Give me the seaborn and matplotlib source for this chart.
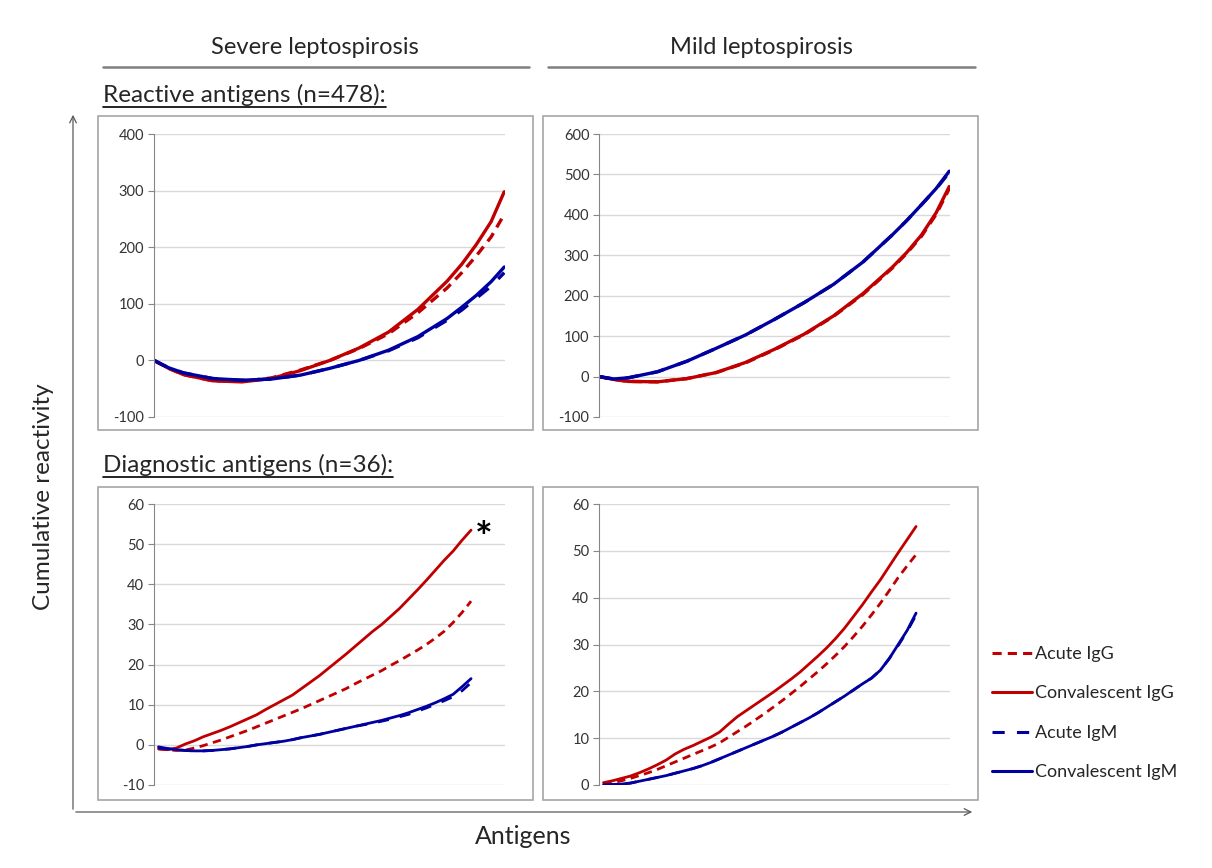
import numpy as np
import pandas as pd
import matplotlib
matplotlib.use("Agg")
import matplotlib.pyplot as plt
import seaborn as sns
from matplotlib.lines import Line2D
from matplotlib.patches import Rectangle, FancyArrowPatch

# Данные: кумулятивная реактивность антигенов
# Reactive antigens (n=478): значения сняты с картинки в выбранных точках
reactive_idx = [0, 20, 40, 80, 120, 160, 200, 240, 280, 320, 360, 400, 420, 440, 460, 478]
severe_acute_igg = [0, -14, -25, -36, -37, -31, -17, 0, 21, 47, 84, 128, 155, 185, 218, 258]
severe_conv_igg = [0, -14, -25, -36, -38, -32, -18, 0, 22, 50, 90, 140, 170, 205, 245, 298]
severe_acute_igm = [0, -13, -22, -32, -35, -33, -26, -14, 0, 17, 40, 71, 89, 110, 131, 155]
severe_conv_igm = [0, -13, -22, -32, -35, -33, -26, -14, 0, 18, 42, 74, 94, 115, 139, 165]
mild_acute_igg = [0, -7, -12, -13, -5, 10, 34, 67, 104, 149, 203, 268, 305, 347, 401, 465]
mild_conv_igg = [0, -7, -12, -13, -5, 10, 35, 68, 105, 150, 205, 270, 307, 350, 405, 470]
mild_acute_igm = [0, -6, -3, 12, 38, 70, 103, 142, 183, 228, 283, 350, 386, 425, 464, 505]
mild_conv_igm = [0, -6, -3, 12, 38, 70, 103, 142, 183, 228, 283, 350, 386, 425, 465, 508]

# Diagnostic antigens (n=36)
diag_idx = list(range(1, 37))
diag_severe_acute_igg = [-1.0, -1.2, -1.4, -1.3, -0.8, -0.2, 0.5, 1.2, 2.0, 2.8, 3.6, 4.5,
                         5.4, 6.3, 7.2, 8.1, 9.0, 10.0, 11.0, 12.0, 13.0, 14.0, 15.2, 16.3,
                         17.4, 18.5, 19.8, 21.0, 22.3, 23.6, 25.0, 26.6, 28.3, 30.5, 33.0, 35.8]
diag_severe_conv_igg = [-1.0, -1.2, -0.8, 0.2, 1.0, 2.0, 2.8, 3.6, 4.5, 5.5, 6.5, 7.5,
                        8.8, 10.0, 11.2, 12.4, 14.0, 15.6, 17.2, 19.0, 20.8, 22.6, 24.5, 26.4,
                        28.3, 30.0, 32.0, 34.0, 36.3, 38.6, 41.0, 43.5, 46.0, 48.3, 51.0, 53.5]
diag_severe_acute_igm = [-0.8, -1.0, -1.2, -1.4, -1.5, -1.5, -1.4, -1.2, -1.0, -0.7, -0.4, 0.0,
                         0.3, 0.6, 0.9, 1.3, 1.8, 2.2, 2.6, 3.1, 3.6, 4.1, 4.6, 5.0,
                         5.4, 5.9, 6.4, 7.0, 7.6, 8.4, 9.2, 10.1, 11.0, 12.0, 13.5, 15.5]
diag_severe_conv_igm = [-0.5, -0.9, -1.2, -1.4, -1.5, -1.5, -1.4, -1.2, -1.0, -0.7, -0.4, 0.0,
                        0.3, 0.6, 0.9, 1.3, 1.8, 2.2, 2.6, 3.1, 3.6, 4.1, 4.6, 5.1,
                        5.6, 6.1, 6.7, 7.3, 8.0, 8.8, 9.6, 10.5, 11.5, 12.6, 14.5, 16.5]
diag_mild_acute_igg = [0.3, 0.5, 0.9, 1.4, 2.0, 2.6, 3.3, 4.1, 4.9, 5.7, 6.5, 7.3,
                       8.1, 9.0, 10.2, 11.4, 12.6, 13.9, 15.2, 16.6, 18.0, 19.5, 21.0, 22.6,
                       24.2, 25.9, 27.7, 29.6, 31.7, 33.9, 36.3, 38.8, 41.5, 44.3, 46.8, 49.2]
diag_mild_conv_igg = [0.5, 0.9, 1.4, 1.9, 2.6, 3.4, 4.3, 5.3, 6.6, 7.6, 8.4, 9.3,
                      10.2, 11.3, 13.0, 14.6, 15.9, 17.2, 18.5, 19.8, 21.2, 22.6, 24.1, 25.8,
                      27.5, 29.3, 31.3, 33.5, 36.0, 38.5, 41.2, 43.8, 46.7, 49.6, 52.4, 55.2]
diag_mild_acute_igm = [0.0, 0.1, 0.2, 0.4, 0.8, 1.2, 1.6, 2.0, 2.5, 3.0, 3.5, 4.1,
                       4.8, 5.6, 6.4, 7.2, 8.0, 8.8, 9.6, 10.4, 11.3, 12.3, 13.3, 14.3,
                       15.4, 16.6, 17.8, 19.0, 20.3, 21.6, 22.8, 24.5, 27.0, 29.8, 32.8, 36.3]
diag_mild_conv_igm = [0.0, 0.1, 0.2, 0.4, 0.8, 1.2, 1.6, 2.0, 2.5, 3.0, 3.5, 4.1,
                      4.8, 5.6, 6.4, 7.2, 8.0, 8.8, 9.6, 10.4, 11.3, 12.3, 13.3, 14.3,
                      15.4, 16.6, 17.8, 19.0, 20.3, 21.6, 22.8, 24.5, 27.0, 30.0, 33.0, 36.7]

series_names = ["Acute IgG", "Convalescent IgG", "Acute IgM", "Convalescent IgM"]

RED = "#C00000"
BLUE = "#0000A0"
styles = {
    "Acute IgG": dict(color=RED, dashes=(3, 2)),
    "Convalescent IgG": dict(color=RED, dashes=None),
    "Acute IgM": dict(color=BLUE, dashes=(4, 4)),
    "Convalescent IgM": dict(color=BLUE, dashes=None),
}

sns.set_style("white")
plt.rcParams["font.family"] = ["Lato", "DejaVu Sans"]
plt.rcParams["axes.unicode_minus"] = False

W, H = 1212, 868
fig = plt.figure(figsize=(W / 100, H / 100), dpi=100)


def fx(px):
    return px / W


def fy(py):
    return 1 - py / H


def panel(rect_px, x, ys, xlim, ylim, step, lw):
    l, t, r, b = rect_px
    ax = fig.add_axes([fx(l), fy(b), fx(r - l), (b - t) / H])
    for name, y in zip(series_names, ys):
        st = styles[name]
        sns.lineplot(x=x, y=y, ax=ax, color=st["color"], lw=lw, legend=False)
        if st["dashes"] is not None:
            ax.lines[-1].set_dashes(st["dashes"])
    ax.set_xlim(*xlim)
    ax.set_ylim(*ylim)
    ax.set_yticks(np.arange(ylim[0], ylim[1] + step / 2, step))
    ax.set_xticks([])
    ax.set_xlabel("")
    ax.set_ylabel("")
    ax.grid(axis="y", color="#d9d9d9", lw=1)
    for s in ["top", "right", "bottom"]:
        ax.spines[s].set_visible(False)
    ax.spines["left"].set_color("#868686")
    ax.tick_params(axis="y", left=True, length=4, color="#868686",
                   labelsize=10.5, labelcolor="#333333", pad=3)
    ax.set_facecolor("none")
    return ax


# Рамки панелей
for (l, t, r, b) in [(98, 116, 533, 430), (543, 116, 978, 430),
                     (98, 487, 533, 800), (543, 487, 978, 800)]:
    fig.add_artist(Rectangle((fx(l), fy(b)), fx(r - l), (b - t) / H,
                             transform=fig.transFigure, fill=False,
                             edgecolor="#a6a6a6", lw=1.2))

panel((154, 134, 505, 417), reactive_idx,
      [severe_acute_igg, severe_conv_igg, severe_acute_igm, severe_conv_igm],
      (0, 479), (-100, 400), 100, 2.4)
panel((599, 134, 950, 417), reactive_idx,
      [mild_acute_igg, mild_conv_igg, mild_acute_igm, mild_conv_igm],
      (0, 479), (-100, 600), 100, 2.4)
ax3 = panel((154, 504, 505, 785), diag_idx,
            [diag_severe_acute_igg, diag_severe_conv_igg, diag_severe_acute_igm, diag_severe_conv_igm],
            (0.5, 39.8), (-10, 60), 10, 2.0)
panel((599, 504, 950, 785), diag_idx,
      [diag_mild_acute_igg, diag_mild_conv_igg, diag_mild_acute_igm, diag_mild_conv_igm],
      (0.5, 39.8), (0, 60), 10, 2.0)

# Звёздочка у конца кривой
ax3.text(diag_idx[-1] + 0.4, diag_severe_conv_igg[-1] - 2.4, "*", fontsize=30,
         fontweight="bold", color="black", ha="left", va="center")

# Заголовки столбцов
fig.text(fx(315), fy(47), "Severe leptospirosis", ha="center", va="center", fontsize=17)
fig.text(fx(761), fy(47), "Mild leptospirosis", ha="center", va="center", fontsize=17)
fig.add_artist(Line2D([fx(103), fx(529)], [fy(67), fy(67)], color="#7f7f7f", lw=1.8))
fig.add_artist(Line2D([fx(548), fx(975)], [fy(67), fy(67)], color="#7f7f7f", lw=1.8))

# Подзаголовки с подчёркиванием
sub1 = fig.text(fx(103), fy(95), "Reactive antigens (n=478):", ha="left", va="center", fontsize=17.5)
sub2 = fig.text(fx(103), fy(465), "Diagnostic antigens (n=36):", ha="left", va="center", fontsize=17.5)
fig.canvas.draw()
for t in (sub1, sub2):
    bb = t.get_window_extent().transformed(fig.transFigure.inverted())
    fig.add_artist(Line2D([bb.x0, bb.x1], [bb.y0 - 0.001, bb.y0 - 0.001], color="black", lw=1.2))

# Общие оси со стрелками
fig.add_artist(FancyArrowPatch((fx(73), fy(812)), (fx(73), fy(112)), transform=fig.transFigure,
                               arrowstyle="->", mutation_scale=12, color="#595959", lw=0.9))
fig.add_artist(FancyArrowPatch((fx(73), fy(812)), (fx(975), fy(812)), transform=fig.transFigure,
                               arrowstyle="->", mutation_scale=12, color="#595959", lw=0.9))
fig.text(fx(44), fy(497), "Cumulative reactivity", rotation=90, ha="center", va="center", fontsize=17.5)
fig.text(fx(523), fy(837), "Antigens", ha="center", va="center", fontsize=18)

# Легенда
handles = []
for name in series_names:
    st = styles[name]
    h = Line2D([], [], color=st["color"], lw=2.2)
    if st["dashes"] is not None:
        h.set_dashes(st["dashes"])
    handles.append(h)
fig.legend(handles, series_names, loc="upper left", bbox_to_anchor=(fx(992), fy(646)),
           frameon=False, fontsize=13, handlelength=2.2, handletextpad=0.2,
           labelspacing=1.3, borderaxespad=0, borderpad=0)

fig.savefig("out.png", dpi=100, facecolor="white")
